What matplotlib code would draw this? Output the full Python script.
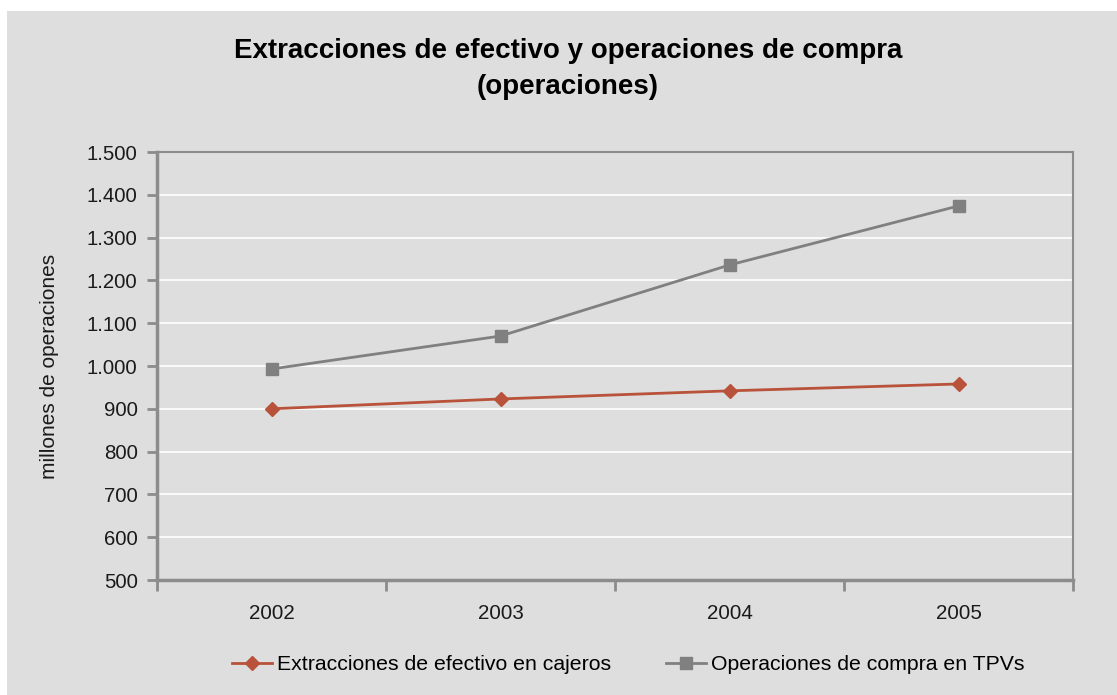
import numpy as np
import matplotlib.pyplot as plt
from matplotlib.patches import Rectangle
from matplotlib.ticker import FuncFormatter, FixedLocator

# data (millones de operaciones)
years = ['2002', '2003', '2004', '2005']
cajeros = [900, 923, 942, 958]
tpvs = [993, 1070, 1236, 1374]

plt.rcParams['font.family'] = ['Liberation Sans', 'DejaVu Sans']

bg = '#dedede'
axis_col = '#8c8c8c'
red = '#b9523a'
grey = '#808080'
txt = '#1a1a1a'

fig = plt.figure(figsize=(11.17, 6.95), dpi=100, facecolor='white')
# grey chart area (the picture has a thin white strip top and left)
fig.patches.append(Rectangle((7 / 1117, 0), 1, 1 - 11 / 695, transform=fig.transFigure,
                             facecolor=bg, edgecolor='none', zorder=-10))

ax = fig.add_axes([157 / 1117, 1 - 580 / 695, 916 / 1117, 428 / 695])
ax.set_facecolor(bg)

x = np.arange(len(years))
ax.plot(x, cajeros, color=red, lw=2, marker='D', ms=7, label='Extracciones de efectivo en cajeros')
ax.plot(x, tpvs, color=grey, lw=2, marker='s', ms=8, label='Operaciones de compra en TPVs')

ax.set_xlim(-0.5, 3.5)
ax.set_ylim(500, 1500)
ax.set_yticks(np.arange(500, 1501, 100))
ax.yaxis.set_major_formatter(FuncFormatter(lambda v, p: f'{int(v):,}'.replace(',', '.')))
ax.grid(axis='y', color='white', lw=1.2)
ax.set_axisbelow(True)

# category boundaries get the tick marks, labels sit in between
ax.xaxis.set_major_locator(FixedLocator(np.arange(-0.5, 3.6, 1)))
ax.xaxis.set_major_formatter(FuncFormatter(lambda v, p: ''))
ax.xaxis.set_minor_locator(FixedLocator(x))
ax.set_xticklabels(years, minor=True)
ax.tick_params(axis='x', which='major', length=8, width=2, color=axis_col)
ax.tick_params(axis='x', which='minor', length=0, pad=17, labelsize=14.8, labelcolor=txt)
ax.tick_params(axis='y', length=7, width=2, color=axis_col, labelsize=14.7, labelcolor=txt, pad=7)

for s in ['left', 'bottom']:
    ax.spines[s].set_color(axis_col)
    ax.spines[s].set_linewidth(2.5)
for s in ['top', 'right']:
    ax.spines[s].set_color(axis_col)
    ax.spines[s].set_linewidth(1.5)

ax.set_ylabel('millones de operaciones', fontsize=15, color=txt, labelpad=20)

fig.text(568 / 1117, 1 - 69 / 695, 'Extracciones de efectivo y operaciones de compra\n(operaciones)',
         ha='center', va='center', fontsize=20, fontweight='bold', linespacing=1.5)

fig.legend(loc='center', bbox_to_anchor=(628 / 1117, 1 - 665 / 695), ncol=2, frameon=False,
           fontsize=15.3, handlelength=1.9, handletextpad=0.2, columnspacing=2.6)

fig.savefig('out.png', dpi=100, facecolor='white')
